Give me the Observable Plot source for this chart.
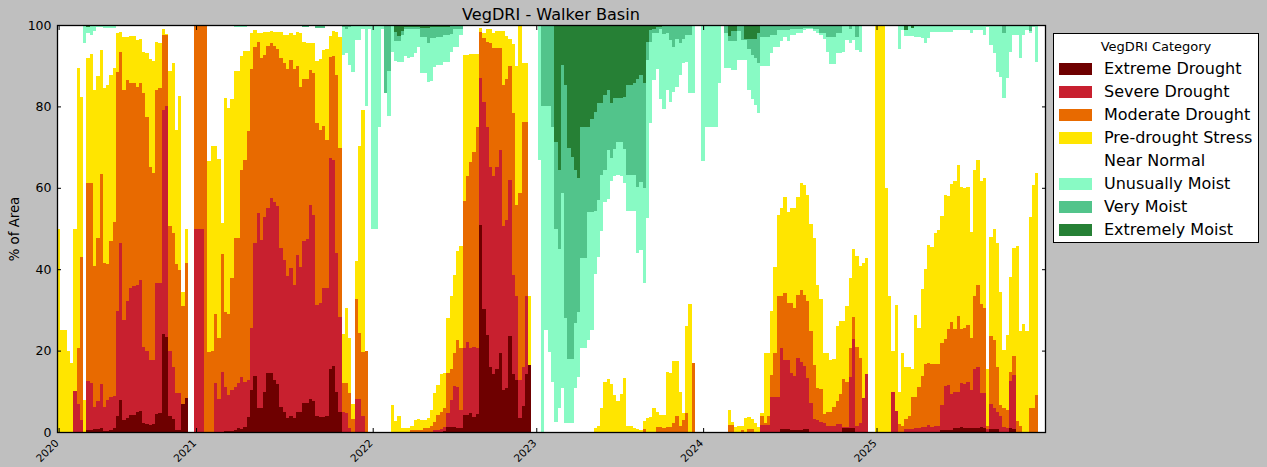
<!DOCTYPE html>
<html>
<head>
<meta charset="utf-8">
<script src="https://cdn.jsdelivr.net/npm/d3@7"></script>
<script src="https://cdn.jsdelivr.net/npm/@observablehq/plot@0.6"></script>
<style>
  html, body { margin: 0; padding: 0; background: #bfbfbf; }
  #wrap { position: relative; width: 1267px; height: 467px; overflow: hidden; font-family: "DejaVu Sans", sans-serif; color: #000; }
  #chart { position: absolute; left: 0; top: 0; }
  #title { position: absolute; left: 57px; width: 988px; top: 5px; line-height: 19px; text-align: center; font-size: 16.1px; }
  #ylabel { position: absolute; left: 14px; top: 229px; transform: translate(-50%, -50%) rotate(-90deg); font-size: 13.3px; white-space: nowrap; }
  #legend { position: absolute; left: 1053px; top: 33px; width: 206px; height: 210px; background: #fff; border: 1px solid #000; box-sizing: border-box; }
  #legend .ttl { position: absolute; left: 0; width: 100%; top: 4px; line-height: 17px; text-align: center; font-size: 13px; }
  #legend .row { position: absolute; left: 0; height: 20px; width: 100%; }
  #legend .sw { position: absolute; left: 5px; top: 4px; width: 33px; height: 12px; }
  #legend .lb { position: absolute; left: 50px; top: 0; line-height: 20px; font-size: 16px; white-space: nowrap; }
</style>
</head>
<body>
<div id="wrap">
  <div id="chart"></div>
  <div id="title">VegDRI - Walker Basin</div>
  <div id="ylabel">% of Area</div>
  <div id="legend"></div>
</div>
<script>
// ---- Categories and colours ----
const categories = ["Extreme Drought", "Severe Drought", "Moderate Drought", "Pre-drought Stress",
                    "Near Normal", "Unusually Moist", "Very Moist", "Extremely Moist"];
const colors = ["#6e0000", "#c8202f", "#e86a00", "#ffe500", "#ffffff", "#88fac4", "#52c48b", "#268035"];

// ---- Tick labels (year starts, by weekly-bar index) ----
const yearTickIndex = [0, 42, 96, 146, 197, 250];
const yearTickLabels = ["2020", "2021", "2022", "2023", "2024", "2025"];
const yTicks = [0, 20, 40, 60, 80, 100];

// ---- Weekly cumulative % of area (drought: from category D-worst upward) ----
// Extreme Drought
const extremeDrought = [
0,0,0,0,0,0,0,0,0,0.5,
0.5,0.7,0.7,0.9,0.3,0.3,0.5,1,3.9,7.9,
2.9,3.5,4.2,4.2,5,5.2,2.1,2,1.7,2,
4.4,4.6,24,23.4,3.9,3.1,0.5,0.5,7,8.4,
0,0,0,0,0,0,0,0,0,0,
0,0.3,0.3,0.3,0.5,0.9,0.7,1.3,3.8,10.2,
13.8,6,6,9.9,14.6,14.6,12.8,11.8,6.2,5,
3.5,4,3.5,5,5,7.2,7.2,8.1,7.5,3.9,
3.8,3.8,3.9,15.5,16.2,9.9,4.8,0,0,0,
0,0,0,0,0,0,0,0,0,0,
0,0,0,0,0,0,0,0,0,0,
0,0,0,0,0,0,0,0,0.3,1.3,
1.3,1.3,1,1,4.2,4.2,4.6,3.8,4.3,50.9,
30.2,23.8,16,14.2,15.4,19.3,10.4,10.8,23.6,14.2,
12.8,3.4,6.5,14.2,16.5,0,0,0,0,0,
0,0,0,0,0,0,0,0,0,0,
0,0,0,0,0,0,0,0,0,0,
0,0,0,0,0,0,0,0,0,0,
0,0,0,0,0,0,0,0,0,0,
0,0,0,0,0,0,0,0,0,0,
0,0,0,0,0,0,0,0,0,0,
0,0,0,0,0,0,0,0,0,0,
0,0.7,0.7,0.7,0.5,0.5,0.5,0.5,0.7,0.7,
0,0,0,0,0,0,0,0,0,0,
1.1,1.1,1.1,1.1,0,0,0,0,0,0,
0,0,0,0,0,0,0,0,0,0,
0,0,0,0,0,0,0,0,0,0,
0.5,0.5,0.5,0.5,0.9,0.9,1.3,0.9,0.9,0.9,
0.9,0.9,1.3,1.1,0,0.7,0.7,0.7,0,0,
0,0.9,0.7,0,0,0,0,0,0,0,
0,0];
// Severe Drought or worse
const severeOrWorse = [
0,0,0,0,0,10,7,3,0,12.5,
12.1,6.2,7.5,11.8,6.2,7.9,8.7,8.8,29.8,46.5,
27.5,32.2,35.3,35.9,36.1,37.3,21,19.9,17.7,17.7,
36.5,36.5,79,80.1,20,16,9.7,9.5,7,8.4,
0,0,50,50,50,0,0,0,12,8,
14.8,11.1,9.1,10.2,11.1,12,13.4,12.4,12.8,25.5,
46.5,53.9,47.2,52.9,55.1,57.4,56.6,55.6,45.1,42.3,
38.3,40.2,36,43.5,40.5,46.9,47.4,55.8,53.2,31.2,
31.6,35.3,35.3,67.4,66.8,44.1,28.3,5,4.6,1,
0,8.1,8.1,4,0,0,0,0,0,0,
0,0,0,0,0,0,0,0,0,0,
0,0,0,0,0,0.5,0.5,0.8,1.3,4.6,
7.9,11.3,11.1,5.4,20.6,22,20.6,21,20.6,87,
81.2,75,65.2,63,65.2,69.3,50.5,52.1,61.9,38.6,
33.3,12.8,16,33.3,16.5,0,0,0,0,0,
0,0,0,0,0,0,0,0,0,0,
0,0,0,0,0,0,0,0,0,0,
0,0,0,0,0,0,0,0,0,0,
0,0,0,0,0,0,0,0,0,0,
0,0,0,0,0,0,0,0,0,0,
0,0,0,0,0,0,0,0,0,0,
0,0,0,0,0,1.7,1.7,1.7,8.7,8.7,
8.7,20.6,17.7,17.7,14.4,13.8,18.3,17.3,16.1,13.2,
7.2,3.1,3,2.5,2.3,1.5,1.5,1.5,2,2,
1.3,1.3,13.6,22.9,1.5,2.1,8.4,14.3,0,0,
0,0,0,0,0,9.9,5.2,0,0,0.7,
0.7,0.7,0.9,0.9,1.3,1.3,1.7,1.3,1.5,1.5,
6.6,11.3,11.5,9.3,9.9,9.9,12.1,11.8,12.4,10.3,
15.6,16,9.5,9.5,0.7,7,5.8,5,3.9,1.3,
0.9,12.5,14,0,0,0,0,0,0,0,
0,0];
// Moderate Drought or worse
const moderateOrWorse = [
0,0,0,0,0,10,20.6,43,0,61.3,
61.3,40.8,47.6,63.4,41.6,41.4,47,51.7,88.5,93.4,
84,86.6,85.8,85.8,84.8,85.7,83.2,77.5,65.2,63.6,
84,84.4,97.5,97.5,50.5,48.8,41.4,39.8,31,41.5,
0,0,100,100,100,100,19.7,20,29,23,
43.7,29.6,29,37.8,47.6,47.6,64.4,66.8,74,89.2,
94.7,95.8,91.8,92.6,94.8,95.5,94.8,94.2,91.8,90.6,
89.1,91.4,89.1,89.9,84.8,86.7,86.7,88.9,88.3,76,
74.2,75.2,71.7,92.2,92.4,87.7,69.9,12,12,9.5,
3.3,32.8,24.4,19.7,19.9,0,0,0,0,0,
0,0,0,0,0,0,0,0,0.5,0.5,
0.5,0.5,0.9,0.9,1.5,2.5,4.2,5,5.8,14.4,
15.6,19.3,22.6,20.6,56.8,63,66.4,68.7,75,98.4,
96.7,95.9,95.5,94.3,94.3,94.3,85.3,86.7,89.9,78.3,
55.8,58.6,76.2,76.2,16.5,0,0,0,0,0,
0,0,0,0,0,0,0,0,0,0,
0,0,0,0,0,0,0,0,0,0,
0,0,0,0,0,0,0,0,0,0.7,
0,0,0,1.3,1.3,0.9,1.3,1.3,2.1,3.9,
1.5,2.9,4.6,0,16.9,0,0,0,0,0,
0,0,0,0,0,1.7,1.7,0,0,0.5,
0,0.7,0.7,0,0,3.9,2.3,3.9,14,19.3,
33.3,33.3,34.2,31.8,31.8,30.4,33.7,34.9,33.7,32.3,
24.9,16.5,10.7,10.5,4.3,5,5,6.2,7.5,9.3,
12.9,12.4,20.6,28.3,21,18.1,8.4,14.3,0,0,
0,0,0,0,0,9.9,5.2,1.9,1.5,3.2,
4,8.7,8.7,11.1,13.8,16.7,17,16.7,16.7,16.7,
21.8,22.9,25.3,27.1,25.3,28.6,25.3,25.6,26.3,23.2,
33.4,36.1,31.4,30.4,1.5,23.6,22.6,16,6.6,5.8,
5.4,14.8,18.7,2.7,1.5,0,0,6,6,9.1,
0,0];
// Pre-drought Stress or worse
const preDroughtOrWorse = [
50,25,25,20,17,50,89.5,82.4,7.9,92,
92.8,84,87.5,93.9,84.4,85.3,87.7,89.4,98,98.4,
97,97.1,97.3,97.3,96.3,96.5,93.4,93,91.6,91.2,
95.8,95.5,98.9,97.8,88.7,90.6,74.2,82.6,34.5,50,
0,0,100,100,100,100,66.6,70.3,70.3,67,
51.3,82.1,79.7,81.8,88.7,88.7,92.5,93.6,93.6,98.1,
98.8,98.1,98.1,98.3,98.4,98.5,98.4,98.4,98.3,97.5,
97.5,98.1,97.6,98.3,98,95.8,95.6,95.5,95.5,91.2,
91.6,93.9,94,97.4,98.5,98.2,97.1,24,30.4,23,
7,41.9,70.3,79,19.9,0,0,0,0,0,
0,0,6.6,2.7,4,0.9,0.9,0.9,1.5,2.9,
3.2,3,3,3.5,5.4,9.5,11.5,14.2,14.4,27.9,
33.3,38.6,44.5,45.7,92.6,92.6,92.8,92.8,92.8,99.2,
98,98.9,98.9,98,98.5,98.5,98.5,97.3,96.5,95.3,
89.9,99.8,90.6,90.6,33.3,0,0,0,0,0,
0,0,0,0,0,0,0,0,0,0,
0,0,0,0,1.1,1.5,6,12.4,13,11.7,
9.1,7.7,9.3,13.3,1.5,1.5,0.9,0.7,0.5,2.8,
3.4,3.8,5.8,5,4.2,4.2,14.8,14.4,17.4,17.4,
9.9,4.6,26,31.4,16.9,0,0,0,0,0,
0,0,0,0,0,5.4,2.5,1.3,1.5,1.5,
3.4,3.6,3.1,2.1,1.3,4.6,19.3,19.3,29.7,40.5,
53.3,55,57.8,54.1,55,55,57.8,61.1,60.8,58.2,
51.1,47.6,36.1,32.8,19.5,19.5,17.7,17.9,26,27.3,
27.3,31,37.9,45,43.2,40.8,41.6,42.8,0,0,
100,100,100,60,33.3,19.9,31.1,9.9,19.5,16,
16,15.4,28.7,25.5,35.1,40,45.9,45.5,49,49.6,
53.1,58.2,58,60.9,61.7,65.6,60.3,59.9,60.3,49.2,
64.4,66.8,61.7,62.3,15.4,48,50,46.5,34.5,20.1,
23.8,38.2,45.1,45.7,24.7,26.5,24.8,52.9,60.7,63.6,
0,0];
// ---- Weekly cumulative % of area (moist: from wettest category downward) ----
// Unusually Moist or wetter
const unusuallyMoistOrWetter = [
0,0,0,0,0,0,0,0,4.4,2,
2.5,1.5,0.5,0.5,0.8,0.8,0.8,0.8,0,0,
0,0,0,0,0,0,0,0,0,0,
0,0,0,0,0,0,0,0,0,0,
0,0,0,0,0,0,0,0,0,0,
0,0,0,0,0.6,0.6,0.6,0.6,0,0,
0,0,0,0,0,0,0,0,0,0,
0,0,0,0,0,0.4,0.4,0,0,0.8,
0.8,0.8,0,0,0,0,0,7.4,6.8,9.8,
11.6,3.7,3.7,1,20,1,50,50,25,1,
16.6,22.4,6.6,8.8,9,9,7.5,8,7.8,6.8,
5.3,11.9,11.9,14,13.8,10.2,9.8,9.8,9,9,
6.6,5.5,5.5,2.5,0,0,0,0,0,0,
0,0,0,0,0,0,0,0,0,0,
0,0,0,0,0,0,0,33.2,100,75,
80.3,87.6,97.5,94.2,89.3,97.9,97.9,97.9,89.3,86.4,
79.4,79.4,77.4,75,61.2,56.9,50.5,43.4,42.8,38.3,
37.1,36.9,37.1,38.9,45.6,45.6,45.6,56.1,55.3,63.5,
47.3,24,13.5,10.9,18.3,20.7,16,18.8,16.4,15.2,
12.3,9.3,9,16.6,16.6,0,0,33.3,25,25,
25,25,14.2,0,10.6,10.6,11,11,8.6,8.6,
8.6,16,18.2,19.7,21.5,10.1,10.1,10.1,7,5.3,
5.3,4,2.9,4,2.5,2.5,1.9,1.9,1.2,1,
1,1.5,1.9,2.5,3.5,6.7,9.7,9.7,6.8,6.8,
6.6,3.7,4.5,3.7,6.2,6.7,0,0,0,0,
0,0,0,0,0,0,0,5.9,1.2,2.7,
2.7,2.7,2.9,2.9,3.1,4.4,3.1,1.7,1.7,1.7,
1.7,1.7,1.7,1.7,1.2,1.2,1.2,1.2,1.2,1.9,
1.2,1.2,1.2,2.5,0.5,4.9,7,11.5,12.7,17.9,
13.1,6.6,2.5,2.5,8,2.5,1.2,1.9,0.5,9,
0,0];
// Very Moist or wetter
const veryMoistOrWetter = [
0,0,0,0,0,0,0,0,0,0.5,
0,0,0,0,0,0,0,0,0,0,
0,0,0,0,0,0,0,0,0,0,
0,0,0,0,0,0,0,0,0,0,
0,0,0,0,0,0,0,0,0,0,
0,0,0,0,0,0,0,0,0,0,
0,0,0,0,0,0,0,0,0,0,
0,0,0,0,0,0.4,0.4,0,0,0.8,
0.8,0.8,0,0,0,0,0,0.5,1,0.5,
0,0,0,0,0,0,0,0,0,0,
16.6,11.3,0,4,3.9,2.5,1,1,1,1,
1,2.9,2.9,4.4,3.3,3.3,2.9,2.9,2.5,2.5,
2.2,1,1,1,0,0,0,0,0,0,
0,0,0,0,0,0,0,0,0,0,
0,0,0,0,0,0,0,0,20,20,
20,25,50,55,41.4,72.1,82.1,82.1,73.1,70.4,
57.3,57.3,45.9,45.9,45.6,43,36.9,35.6,30.7,32.6,
30.5,28.7,28.7,30.5,36.9,36.9,36.9,39.7,38.5,40.1,
8.6,4.1,1.9,2,0.9,2.1,2,3.7,5.3,3.5,
4.5,3.5,2.5,2.5,0,0,0,0,0,0,
0,0,0,0,1.9,3.9,3.9,3.9,1.5,3.8,
3.8,6,7.4,8.2,9.4,2.9,2.9,2.9,2.5,2.5,
1.2,1.2,1.2,1.2,1,1,1,1,0.7,0.7,
0.7,0.9,1,1.9,1.9,2.9,2.9,2.9,1.9,1.9,
0,0,1,0,2.9,0,0,0,0,0,
0,0,0,0,0,0,0,0,0,1.2,
0,0.8,0,0,0,0,0,0,0,0,
0,0,0,0,0,0,0,0,0,0,
0,0,0,0,0,0,0,0,0,2,
0,0,0,0,0,0,0,1.5,0,0,
0,0];
// Extremely Moist
const extremelyMoist = [
0,0,0,0,0,0,0,0,0,0.5,
0,0,0,0,0,0,0,0,0,0,
0,0,0,0,0,0,0,0,0,0,
0,0,0,0,0,0,0,0,0,0,
0,0,0,0,0,0,0,0,0,0,
0,0,0,0,0,0,0,0,0,0,
0,0,0,0,0,0,0,0,0,0,
0,0,0,0,0,0,0,0,0,0,
0,0,0,0,0,0,0,0,0,0,
0,0,0,0,0,0,0,0,0,0,
0,0,0,1.8,2.7,1.5,0.5,0.5,0.5,0.5,
0.5,0.7,0.7,0.7,0.6,0.6,0.6,0.6,0.6,0.6,
0,0,0,0,0,0,0,0,0,0,
0,0,0,0,0,0,0,0,0,0,
0,0,0,0,0,0,0,0,0,0,
0,0,28.7,35.6,9.8,14.7,30.3,32.5,35.6,37.7,
25,25,25,23,21.3,19.2,19.2,17.2,16,19.2,
18,18,18,17.8,14.7,14.7,14.3,13.3,12.3,14.3,
4.1,1.2,1,0.4,0.5,0.2,0.2,0.2,0.2,0,
0,0,0,0,0,0,0,0,0,0,
0,0,0,0,0,2.7,1.5,1.5,0,0,
3.5,3.5,3.5,3.5,2,0,0,0,0,0,
0,0,0,0,0,0,0,0,0,0,
0,0,0,0,0,0,0,0,0,0,
0,0,0,0,0,0,0,0,0,0,
0,0,0,0,0,0,0,0,0,1.2,
0,0.8,0,0,0,0,0,0,0,0,
0,0,0,0,0,0,0,0,0,0,
0,0,0,0,0,0,0,0,0,0,
0,0,0,0,0,0,0,0,0,0,
0,0];

// ---- Build the band table from the series ----
const N = Math.min(extremeDrought.length, severeOrWorse.length, moderateOrWorse.length,
  preDroughtOrWorse.length, unusuallyMoistOrWetter.length, veryMoistOrWetter.length, extremelyMoist.length);
const rows = [];
for (let i = 0; i < N; i++) {
  const bands = [
    [categories[0], 0, extremeDrought[i]],
    [categories[1], extremeDrought[i], severeOrWorse[i]],
    [categories[2], severeOrWorse[i], moderateOrWorse[i]],
    [categories[3], moderateOrWorse[i], preDroughtOrWorse[i]],
    [categories[5], 100 - unusuallyMoistOrWetter[i], 100 - veryMoistOrWetter[i]],
    [categories[6], 100 - veryMoistOrWetter[i], 100 - extremelyMoist[i]],
    [categories[7], 100 - extremelyMoist[i], 100]
  ];
  for (const [cat, a, b] of bands) {
    if (b > a) rows.push({i, i2: i + 1, y1: a, y2: b, cat});
  }
}

const tickPos = yearTickIndex.map(d => d + 0.5);
const tickText = new Map(tickPos.map((p, k) => [p, yearTickLabels[k]]));

const chart = Plot.plot({
  width: 1050,
  height: 467,
  marginLeft: 57,
  marginRight: 5,
  marginTop: 25,
  marginBottom: 35,
  style: {background: "transparent", fontFamily: "DejaVu Sans, sans-serif", color: "#000"},
  x: {domain: [0, N], type: "linear"},
  y: {domain: [0, 100]},
  color: {type: "ordinal", domain: categories, range: colors},
  marks: [
    Plot.frame({fill: "white", stroke: null}),
    Plot.rect(rows, {x1: "i", x2: "i2", y1: "y1", y2: "y2", fill: "cat", shapeRendering: "crispEdges"}),
    // inward tick marks on all four sides
    Plot.axisY({anchor: "left", ticks: yTicks, tickSize: 4, dx: 4, tickFormat: () => "", label: null, strokeWidth: 1}),
    Plot.axisY({anchor: "right", ticks: yTicks, tickSize: 4, dx: -4, tickFormat: () => "", label: null, strokeWidth: 1}),
    Plot.axisX({anchor: "bottom", ticks: tickPos, tickSize: 4, dy: -4, tickFormat: () => "", label: null, strokeWidth: 1}),
    Plot.axisX({anchor: "top", ticks: tickPos, tickSize: 4, dy: 4, tickFormat: () => "", label: null, strokeWidth: 1}),
    // tick labels
    Plot.axisY({anchor: "left", ticks: yTicks, tickSize: 0, tickPadding: 6, fontSize: 12.5, label: null}),
    Plot.axisX({anchor: "bottom", ticks: tickPos, tickSize: 0, tickPadding: 7, tickRotate: -45,
                tickFormat: d => tickText.get(d), fontSize: 10.5, dx: -2, dy: 2, label: null}),
    Plot.frame({stroke: "#000", strokeWidth: 1.3})
  ]
});
document.getElementById("chart").appendChild(chart);

// ---- Legend ----
const legend = document.getElementById("legend");
const ttl = document.createElement("div");
ttl.className = "ttl";
ttl.textContent = "VegDRI Category";
legend.appendChild(ttl);
categories.forEach((c, k) => {
  const row = document.createElement("div");
  row.className = "row";
  row.style.top = (24.7 + 23 * k) + "px";
  const sw = document.createElement("div");
  sw.className = "sw";
  sw.style.background = colors[k];
  const lb = document.createElement("div");
  lb.className = "lb";
  lb.textContent = c;
  row.appendChild(sw);
  row.appendChild(lb);
  legend.appendChild(row);
});
</script>
</body>
</html>
